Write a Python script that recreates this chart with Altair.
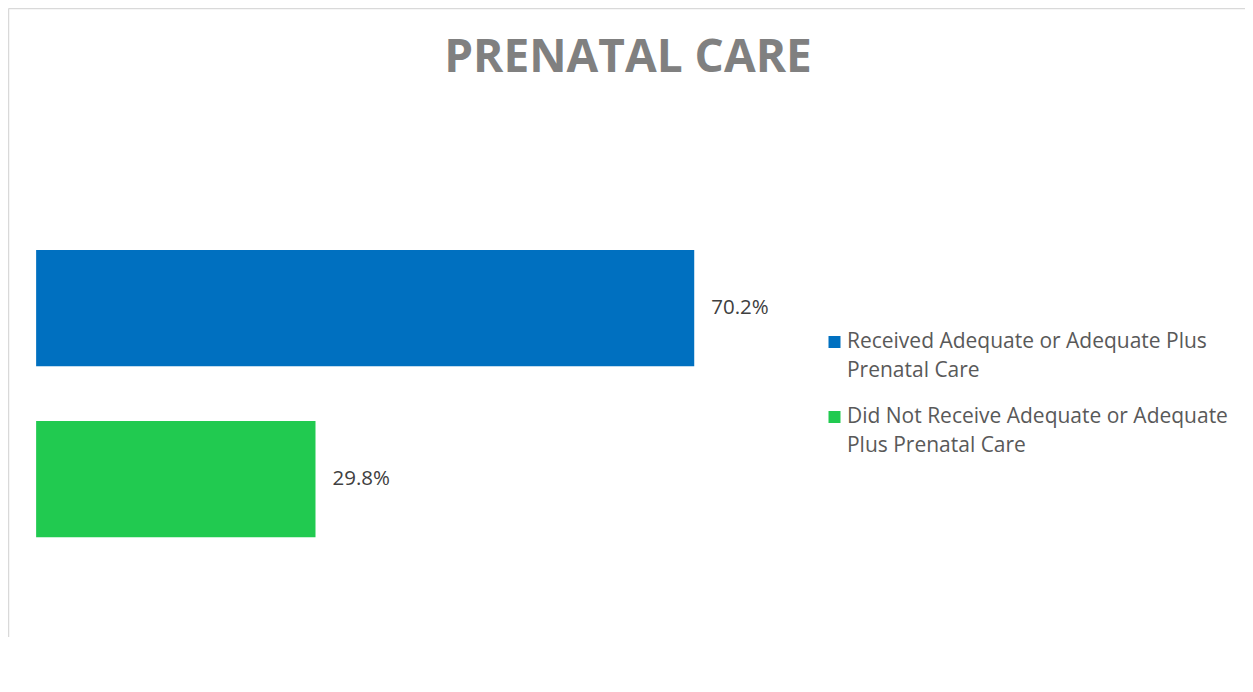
import json
import altair as alt
import pandas as pd

categories = [
    "Received Adequate or Adequate Plus Prenatal Care",
    "Did Not Receive Adequate or Adequate Plus Prenatal Care",
]
values = [70.2, 29.8]
value_labels = ["70.2%", "29.8%"]
legend_lines = [
    ["Received Adequate or Adequate Plus", "Prenatal Care"],
    ["Did Not Receive Adequate or Adequate", "Plus Prenatal Care"],
]
colors = ["#0070C0", "#21CA50"]

df = pd.DataFrame({"category": categories, "value": values, "label": value_labels})

label_expr = " : ".join(
    f"datum.label == {json.dumps(c)} ? {json.dumps(l)}" for c, l in zip(categories[:-1], legend_lines[:-1])
) + f" : {json.dumps(legend_lines[-1])}"

FONT = "Open Sans"

x = alt.X(
    "value:Q",
    scale=alt.Scale(domain=[-3, 128.95], nice=False, zero=False),
    axis=alt.Axis(orient="top", labels=False, ticks=False, grid=False, title=None,
                  domainColor="#D9D9D9", domainWidth=1.5),
)
y = alt.Y(
    "category:N",
    sort=categories,
    scale=alt.Scale(paddingInner=0.32, paddingOuter=1, align=0.7076),
    axis=alt.Axis(orient="left", labels=False, ticks=False, grid=False, title=None,
                  domainColor="#D9D9D9", domainWidth=1.5),
)
color = alt.Color(
    "category:N",
    sort=categories,
    scale=alt.Scale(domain=categories, range=colors),
    legend=alt.Legend(
        title=None,
        orient="none",
        legendX=816,
        legendY=323.5,
        padding=0,
        symbolType="square",
        symbolSize=144,
        symbolStrokeWidth=0,
        labelFont=FONT,
        labelFontSize=21,
        labelColor="#595959",
        labelOffset=2,
        labelLimit=600,
        labelBaseline="alphabetic",
        rowPadding=25,
        labelExpr=label_expr,
    ),
)

bars = alt.Chart(df).mark_bar(cornerRadius=0).encode(x=x, y=y, color=color)
texts = alt.Chart(df).mark_text(
    align="left", baseline="middle", dx=17, font=FONT, fontSize=20.5, color="#404040"
).encode(x="value:Q", y=alt.Y("category:N", sort=categories), text="label:N")

chart = (
    alt.layer(bars, texts)
    .properties(
        width=1237,
        height=629.3,
        autosize=alt.AutoSizeParams(type="none"),
        padding={"left": 0, "top": 0, "right": 0, "bottom": 0},
        title=alt.TitleParams(
            "PRENATAL CARE",
            font=FONT,
            fontSize=46,
            fontWeight="bold",
            color="#808080",
            anchor="middle",
            offset=0,
            baseline="alphabetic",
            dy=110,
            dx=1.5,
        ),
    )
    .configure(
        background="white",
        style={"guide-label": {"lineHeight": 29, "dy": 6.5}},
    )
    .configure_view(stroke=None)
)

chart.save("out.html", embed_options={"renderer": "svg", "actions": False})
